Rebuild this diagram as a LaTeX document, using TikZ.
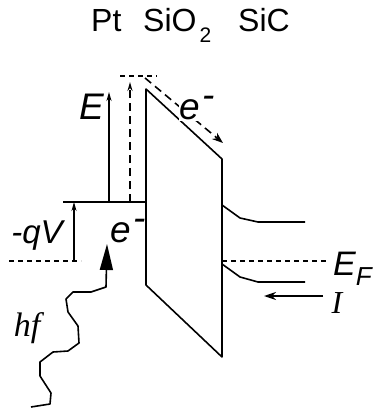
\documentclass[tikz,border=0pt]{standalone}
\usepackage{fontspec}
\setmainfont{Liberation Sans}
\newfontfamily\serifit{Liberation Serif}
\usetikzlibrary{arrows.meta, positioning, calc}

\begin{document}
\begin{tikzpicture}[x=1pt, y=-1pt,
    band/.style={line width=1.6pt, line join=round},
    level/.style={line width=1.6pt, dash pattern=on 5pt off 4pt},
    excite/.style={line width=1.6pt, dash pattern=on 8pt off 5pt},
    smallarrow/.style={-{Stealth[length=9pt, width=5pt]}, line width=1.6pt},
    layername/.style={font=\fontsize{32}{32}\selectfont, inner sep=0pt, anchor=base west},
    lab/.style={font=\fontsize{#1}{#1}\selectfont\itshape, inner sep=0pt},
]
    \useasboundingbox (0,0) rectangle (381,414);

    % layer names
    \node[layername] (pt)  at (91,32)  {Pt};
    \node[layername] (sio) at (143,32) {SiO\kern3pt\raisebox{-0.32em}{\fontsize{21}{21}\selectfont 2}};
    \node[layername] (sic) at (238,32) {SiC};

    % oxide barrier
    \coordinate (oxTL) at (146,89);
    \coordinate (oxTR) at (222,159);
    \coordinate (oxBL) at (146,285);
    \coordinate (oxBR) at (222,357);
    \draw[band] (oxTL) -- (oxBL) -- (oxBR) -- (oxTR) -- cycle;

    % Pt Fermi level and photo-excitation
    \coordinate (ptL) at (63,202);
    \draw[band] (ptL) -- (oxBL |- ptL);
    \coordinate (eBot) at (109,202);
    \coordinate (eTop) at (109,92);
    \draw[smallarrow] (eBot) -- (eTop);
    \coordinate (hotBot) at (130,202);
    \coordinate (hotTop) at (130,82);
    \draw[excite, -{Stealth[length=9pt, width=5pt]}] (hotBot) -- (hotTop);
    \coordinate (topL) at (120,76);
    \coordinate (topR) at (157,76);
    \draw[level] (topL) -- (topR);
    \coordinate (slideA) at (145,78);
    \coordinate (slideB) at (223,143);
    \draw[excite, -{Stealth[length=11pt, width=8pt]}] (slideA) -- (slideB);

    % bias
    \coordinate (vBot) at (74,261);
    \coordinate (vTop) at (74,202);
    \draw[smallarrow, line width=1.2pt] (vBot) -- (vTop);
    \coordinate (efL) at (9,261);
    \coordinate (efM) at (81,261);
    \draw[level] (efL) -- (efM);

    % SiC bands
    \coordinate (cbA) at (222,205);
    \coordinate (cbB) at (305,222);
    \draw[band] (cbA) -- (240,218) -- (258,222) -- (cbB);
    \coordinate (vbA) at (222,264);
    \coordinate (vbB) at (305,282);
    \draw[band] (vbA) -- (240,277) -- (258,282) -- (vbB);
    \coordinate (efsA) at (222,261);
    \coordinate (efsB) at (327,261);
    \draw[level] (efsA) -- (efsB);
    \coordinate (iA) at (323,296);
    \coordinate (iB) at (264,296);
    \draw[-{Stealth[length=12pt, width=8pt]}, line width=1.6pt] (iA) -- (iB);

    % photon
    \coordinate (phStart) at (31,407);
    \coordinate (phEnd) at (107,244);
    \draw[band, -{Triangle[length=26pt, width=13pt]}] (phStart) -- (50,404) -- (51,393)
        -- (40,376) -- (40,362) -- (53,352) -- (68,351) -- (79,343) -- (78,326)
        -- (68,312) -- (66,299) -- (73,292) -- (91,292) -- (106,287) -- (phEnd);

    % labels
    \node[lab=37] (elab)  at (92,107)  {E};
    \node[lab=37, fill=white, inner sep=1pt] (ehot) at (197,108) {e\kern2pt\raisebox{0.33em}{-}};
    \node[lab=37] (ecold) at (128,231) {e\kern2pt\raisebox{0.33em}{-}};
    \node[lab=33, anchor=base] (qv) at (37,243)  {-qV};
    \node[lab=34, anchor=base west] (ef) at (333,275) {E\raisebox{-0.3em}{\fontsize{26}{26}\selectfont F}};
    \node[lab=32, anchor=base] (ilab) at (337,313) {\serifit I};
    \node[lab=34] (hf)    at (27,328)  {\serifit hf};
\end{tikzpicture}
\end{document}
